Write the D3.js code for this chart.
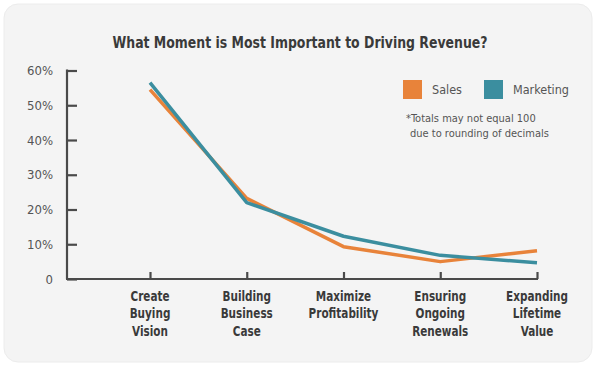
<!DOCTYPE html>
<html>
<head>
<meta charset="utf-8">
<script src="https://cdn.jsdelivr.net/npm/d3@7"></script>
<style>
  body { margin: 0; background: #fff; }
  text { font-family: "Liberation Sans Narrow", "DejaVu Sans Condensed", "Liberation Sans", sans-serif; }
</style>
</head>
<body>
<div id="chart"></div>
<script>
// chart data
const categories = [
  ['Create', 'Buying', 'Vision'],
  ['Building', 'Business', 'Case'],
  ['Maximize', 'Profitability'],
  ['Ensuring', 'Ongoing', 'Renewals'],
  ['Expanding', 'Lifetime', 'Value']
];
const salesValues = [54.5, 23.2, 9.3, 5.0, 8.1];
const marketingValues = [56.5, 22.0, 12.3, 6.8, 4.7];
const seriesNames = ['Sales', 'Marketing'];
const yTicks = [0, 10, 20, 30, 40, 50, 60];
const footnote = ['*Totals may not equal 100', 'due to rounding of decimals'];

const width = 600, height = 371;
const colors = { Sales: '#e8833a', Marketing: '#3b8e9f' };

const svg = d3.select('#chart').append('svg')
    .attr('width', width)
    .attr('height', height);

// card background
svg.append('rect')
    .attr('x', 4).attr('y', 4)
    .attr('width', 588).attr('height', 358)
    .attr('rx', 14)
    .attr('fill', '#f4f4f4')
    .attr('stroke', '#ececec');

svg.append('text')
    .attr('x', 300).attr('y', 48)
    .attr('text-anchor', 'middle')
    .attr('font-size', 16)
    .attr('font-weight', 'bold')
    .attr('fill', '#3a3a3a')
    .attr('textLength', 375)
    .attr('lengthAdjust', 'spacingAndGlyphs')
    .text('What Moment is Most Important to Driving Revenue?');

const x = d3.scalePoint()
    .domain(d3.range(categories.length))
    .range([150, 537]);

const y = d3.scaleLinear()
    .domain([0, 60])
    .range([279, 70.5]);

const axisColor = '#4a4a4a';

// y axis
const yAxis = svg.append('g')
    .attr('transform', 'translate(67,0)')
    .call(d3.axisRight(y).tickValues(yTicks).tickSize(10).tickFormat(''));
yAxis.select('.domain').remove();
yAxis.selectAll('.tick line').attr('stroke', axisColor).attr('stroke-width', 2.2);

svg.append('line')
    .attr('x1', 67).attr('x2', 67)
    .attr('y1', y(60) - 1).attr('y2', y(0))
    .attr('stroke', axisColor).attr('stroke-width', 2.2);

svg.selectAll('.y-label')
    .data(yTicks)
  .join('text')
    .attr('class', 'y-label')
    .attr('x', 53)
    .attr('y', d => y(d))
    .attr('dy', '0.35em')
    .attr('text-anchor', 'end')
    .attr('font-size', 13)
    .attr('fill', '#555')
    .text(d => d === 0 ? '0' : d + '%');

// x axis
const xAxis = svg.append('g')
    .attr('transform', `translate(0,${y(0)})`)
    .call(d3.axisTop(x).tickSize(7).tickFormat(''));
xAxis.select('.domain').remove();
xAxis.selectAll('.tick line').attr('stroke', axisColor).attr('stroke-width', 2.2);

svg.append('line')
    .attr('x1', 66).attr('x2', 538)
    .attr('y1', y(0)).attr('y2', y(0))
    .attr('stroke', axisColor).attr('stroke-width', 2.2);

// category labels, squeezed to look like a condensed face
svg.selectAll('.x-label')
    .data(categories)
  .join('g')
    .attr('class', 'x-label')
    .attr('transform', (d, i) => `translate(${x(i)},301) scale(0.83,1)`)
  .append('text')
    .attr('text-anchor', 'middle')
    .attr('font-size', 14)
    .attr('font-weight', 'bold')
    .attr('fill', '#3a3a3a')
    .selectAll('tspan')
    .data(d => d)
  .join('tspan')
    .attr('x', 0)
    .attr('y', (t, j) => j * 17.5)
    .text(t => t);

// lines
const line = d3.line()
    .x((d, i) => x(i))
    .y(d => y(d));

const series = [
  { name: 'Sales', values: salesValues },
  { name: 'Marketing', values: marketingValues }
];

svg.selectAll('.series')
    .data(series)
  .join('path')
    .attr('class', 'series')
    .attr('d', d => line(d.values))
    .attr('fill', 'none')
    .attr('stroke', d => colors[d.name])
    .attr('stroke-width', 3.5)
    .attr('stroke-linejoin', 'round');

// legend
const legend = svg.append('g').attr('transform', 'translate(403,80)');
const legendX = [0, 81];
seriesNames.forEach((name, i) => {
  legend.append('rect')
      .attr('x', legendX[i]).attr('y', 0)
      .attr('width', 19).attr('height', 19)
      .attr('fill', colors[name]);
  legend.append('text')
      .attr('x', legendX[i] + 29).attr('y', 9.5)
      .attr('dy', '0.35em')
      .attr('font-size', 12.5)
      .attr('fill', '#555')
      .text(name);
});

svg.selectAll('.note')
    .data(footnote)
  .join('text')
    .attr('class', 'note')
    .attr('x', (d, i) => i === 0 ? 406 : 410)
    .attr('y', (d, i) => 118 + i * 15.5)
    .attr('dy', '0.35em')
    .attr('font-size', 11)
    .attr('fill', '#555')
    .text(d => d);
</script>
</body>
</html>
